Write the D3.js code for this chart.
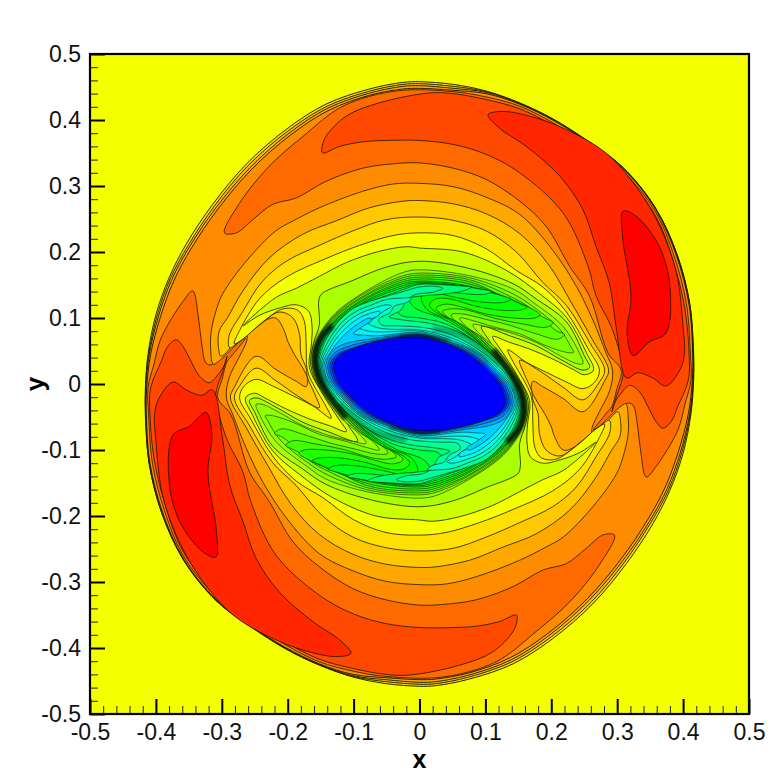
<!DOCTYPE html>
<html><head><meta charset="utf-8">
<script src="https://cdn.jsdelivr.net/npm/d3@7"></script>
<style>html,body{margin:0;padding:0;background:#fff}svg{display:block}</style></head>
<body><svg id="c" width="781" height="781"></svg>
<script>
// Contour coordinates in thousandths of an axis unit: x,y,x,y,...
// "half" contours run from a point round to its antipode; the field is point-symmetric about the origin.
const tickValues=[-0.5,-0.4,-0.3,-0.2,-0.1,0,0.1,0.2,0.3,0.4,0.5];
const tickLabels=["-0.5","-0.4","-0.3","-0.2","-0.1","0","0.1","0.2","0.3","0.4","0.5"];
const minorTicks=[];for(let i=-25;i<=25;i++){if(i%5)minorTicks.push(i/50);}

const edge0=[0,458,51,454,101,444,152,426,202,402,253,370,308,329,358,267,391,196,410,122,416,47,416,6,412,-45,400,-105,380,-161,354,-212,314,-272,263,-333,202,-386,142,-424,76,-447,25,-457];
const edge1=[0,455,51,451,101,443,152,425.5,202,401.5,253,369.5,308,328.5,358,266.5,391,195.5,410,121.5,415.5,47,415.5,6,411,-45,398,-104,378,-160,351,-210,311,-270,261,-330,200,-383,140,-421,75,-444,25,-454];
const edge2=[0,452,51,448,101,442,152,425,202,401,253,369,308,328,358,266,390.5,195,409.5,121,415,47,415,6,410,-45,396,-103,376,-158,349,-208,309,-267,258,-327,198,-380,139,-418,75,-441,25,-451];
const edge3=[0,448,51,445,101,440,152,424,202,400,253,368,308,327,358,265,390,194,409,120,414.5,47,414,6,408,-45,393,-102,373,-156,346,-206,306,-265,255,-325,196,-377,137,-415,74,-438,25,-447];

const crescentC=[-296,229,-273,274,-228,330,-177,375,-116,421,-35,444,51,443,101,435,152,421,202,396,253,364,308,323,358,261,387,192,405,122,411,47,412,6,403,-30,392,-70,359,-125,344,-141,336,-105,331,-65,324,-32,316,-29,304,-39,264,-70,283,-45,292,-34,299,-9,306,21,286,47,258,133,228,178,192,239,152,277,101,310,51,327,0,335,-35,334,-86,327,-142,307,-187,282,-223,272,-253,249,-278,229];
const crescentB=[-148,358,-142,375,-111,406,-61,426,15,441,51,440,101,431,152,417,202,392,253,359,308,318,358,255,385,186,402,118,409,47,408,6,392,-34,382,-57,369,-67,359,-57,349,-39,334,-12,319,-2,306,-14,296,-29,292,-42,300,-15,307,5,309,21,293,82,268,133,256,178,218,259,152,320,101,348,51,363,0,369,-51,369,-86,367,-121,360,-147,350];
const crescentA=[104,408,127,413,177,403,228,383,283,350,331,296,366,236,390,168,400,87,402,45,395,21,374,-3,354,9,331,17,314,9,299,82,288,153,268,208,248,264,213,315,162,360,121,388];
const lobeRed=[309,262,329,254,364,208,380,148,374,77,349,64,324,43,315,77,321,133,308,224];

const levelD=[0,304,51,299,101,283,152,257,202,203,238,148,263,97,283,47,293,21,289,-9,273,-42,262,-66,262,-76,283,-55,304,-35,313,-30,317,-56,316,-80,309,-110,299,-136,263,-186,218,-232,192,-247,152,-267,86,-292,40,-303];
const levelE=[0,278,51,273,101,258,152,228,195,182,230,124,263,66,287,21,281,5,248,-42,218,-22,187,-4,172,4,170,-9,177,-24,190,-45,200,-65,205,-80,218,-100,235,-96,253,-86,278,-65,301,-42,305,-55,304,-80,291,-101,268,-141,228,-191,177,-227,127,-247,76,-267,25,-277];
const levelF=[0,253,51,248,101,232,147,200,187,154,223,119,258,63,281,21,273,3,248,-24,218,-5,182,20,152,36,159,15,170,-10,172,-24,180,-45,182,-75,192,-100,213,-109,243,-89,273,-65,288,-55,289,-73,268,-110,238,-156,202,-186,152,-210,101,-232,51,-249];
const levelG=[0,229,51,225,101,205,147,172,187,147,223,109,256,53,273,21,266,3,248,-7,223,3,192,18,162,33,134,52,144,30,157,8,170,-20,172,-61,175,-96,185,-112,207,-114,238,-94,268,-68,281,-61,273,-81,243,-129,202,-162,142,-190,91,-210,40,-225];
const levelH=[0,206,66,200,132,172,182,137,223,101,253,48,264,21,250,14,235,21,202,38,167,53,137,63,111,72,124,51,147,15,167,-25,164,-61,163,-86,168,-110,187,-120,213,-115,243,-104,268,-88,218,-131,187,-145,152,-163,111,-184,61,-201,20,-208];
const levelI=[0,186,76,175,142,152,177,129,223,94,250,43,258,25,248,21,218,35,177,58,137,73,94,87,109,61,132,20,152,5,165,-28,161,-61,152,-90,153,-125,149,-136,101,-157,51,-177];
const levelJ=[0,173,76,164,142,144,172,124,218,87,243,46,248,31,238,31,213,43,177,63,137,78,101,87,81,90,91,76,114,56,139,25,156,-5,163,-30,158,-61,132,-103,81,-141,25,-169];
const levelK=[0,168,76,161,139,138,170,119,213,83,230,56,234,48,223,48,192,58,152,76,111,87,81,96,61,100,71,87,94,71,121,43,144,15,155,-5,162,-30,157,-61,132,-101,81,-139,25,-164];
const levelL=[0,165,76,158,137,133,167,116,207,81,220,75,210,68,177,76,137,89,96,99,66,106,48,105,58,92,83,78,114,51,139,20,154,-5,161,-30,156,-61,132,-99,81,-136,25,-161];
const levelM=[0,162,76,155,132,129,162,114,192,99,203,93,192,86,157,91,116,99,76,111,51,114,35,110,46,99,73,83,106,56,134,23,153,-5,160,-30,155,-61,132,-97,81,-134,25,-158];
const levelN=[0,159,71,153,127,133,170,114,183,105,175,100,142,100,101,106,66,116,40,121,25,115,35,105,66,89,99,61,129,26,152,-5,159,-30,153,-61,132,-94,81,-131,25,-155];
const levelO=[0,156,61,151,116,137,154,121,163,116,152,112,121,112,81,119,46,129,25,129,15,120,25,109,56,94,91,66,124,30,151,-5,158,-30,152,-61,132,-92,81,-129,25,-152];
const levelP=[0,154,56,150,106,139,134,131,139,129,129,124,96,124,56,131,20,138,3,133,5,122,15,110,48,96,86,68,119,33,150,-5,157,-30,151,-61,132,-90,81,-126,25,-149];
const levelQ=[0,152,51,150,91,144,110,140,99,136,66,137,30,142,-5,146,-15,134,-15,125,-5,114,35,99,81,71,114,36,149,-5,156,-30,149,-61,132,-88,81,-124,25,-146];
const levelR=[0,151,40,150,71,148,79,147,66,141,35,136,0,133,-25,128,-35,114,-28,104,0,100,40,91,86,63,119,30,148,-5,155,-30,147,-61,132,-85,81,-121,25,-143];
const levelS=[-153,30,-146,58,-133,82,-118,100,-100,115,-76,125,-50,133,-25,140,0,147,25,148,35,145,20,139,-5,136,-20,127,-28,112,-46,102,-25,97,15,92,56,80,96,56,127,25,148,-9];
const levelT=[-151,30,-143,56,-130,78,-115,96,-96,110,-72,120,-50,128,-28,130,-12,130,-18,124,-38,118,-45,108,-62,98,-58,90,-30,88,10,85,50,74,90,52,122,25,146,-9];
const levelU=[-149,30,-140,54,-127,75,-112,92,-92,106,-72,114,-50,120,-42,118,-55,110,-68,100,-80,94,-66,86,-45,83,0,82,48,70,88,50,120,22,144,-9];
const levelV=[-147,30,-137,52,-124,72,-108,88,-88,102,-72,108,-60,110,-62,104,-78,96,-92,86,-76,80,-55,79,0,80,46,67,88,48,118,20,142,-9];
const ring1=[-145,30,-134,50,-120,68,-106,82,-92,92,-76,100,-72,97,-88,86,-100,76,-85,74,-65,73,0,78,44,65,87,47,134,3,141,-9];
const ring2=[-142,30,-130,52,-110,62,-75,68,0,76,43,64,86,46,131,3,138,-9];
const ring3=[-139,30,-128,48,-105,58,-70,66,0,75,42,63,85,44,128,3,135,-9];
const ring4=[-136,30,-125,45,-100,55,-60,66,0,74,41,62,83,43,125,3,132,-9];
const ring5=[-133,30,-122,44,-95,56,-50,68,0,73,40,62,81,42,122,3,129,-9];
const core=[-130,30,-121,44,-91,57,-46,68,0,71,40,61,81,40,121,1,126,-9];
// Stretches of the ring where the contour lines pack into near-black bands.
const packedBand=[112,52,130,28,146,4,156,-22,158,-46,150,-70,132,-88];
const packedCoreEdge=[-30,72,0,73,46,66];
const packedTeal=[20,84,70,72,100,50,122,30];

const edgeColors=["#ffdc00","#ffc000","#ffa800","#ff8c00"];
const crescentColors=["#ff6a00","#ff4800","#ff2600","#ff0000"];
const levelColors=["#ffa800","#ffc800","#ffe000","#f4ff00","#ccff00","#aaff00","#90ff00","#78ff00","#5cff00","#40ff00","#20ff00","#00ff00","#00ff20","#00ff48","#00ff70","#00ff98","#00ffc0","#00ffe8","#00f0ff"];
const ringColors=["#00d0ff","#00a8ff","#0080ff","#0050ff","#0028ff","#0000ff"];

const x=d3.scaleLinear().domain([-0.5,0.5]).range([90,749]);
const y=d3.scaleLinear().domain([-0.5,0.5]).range([714,54]);
const svg=d3.select("#c");
const defs=svg.append("defs");
defs.append("filter").attr("id","soft").attr("x","-30%").attr("y","-30%").attr("width","160%").attr("height","160%")
  .append("feGaussianBlur").attr("stdDeviation",1.6);
const pairs=a=>{const o=[];for(let i=0;i<a.length;i+=2)o.push([a[i]/1000,a[i+1]/1000]);return o;};
const flip=p=>p.map(d=>[-d[0],-d[1]]);
const both=a=>{const p=pairs(a);return p.concat(flip(p));};
const line=d3.line().x(d=>x(d[0])).y(d=>y(d[1])).curve(d3.curveCatmullRomClosed.alpha(0.5));
const open=d3.line().x(d=>x(d[0])).y(d=>y(d[1])).curve(d3.curveCatmullRom.alpha(0.5));

svg.append("rect").attr("x",x(-0.5)).attr("y",y(0.5)).attr("width",x(0.5)-x(-0.5)).attr("height",y(-0.5)-y(0.5)).attr("fill","#f4ff00");
const layers=[];
[edge0,edge1,edge2,edge3].forEach((c,i)=>layers.push({p:both(c),f:edgeColors[i],w:1}));
[crescentC,crescentB,crescentA,lobeRed].forEach((c,i)=>{const p=pairs(c);layers.push({p:p,f:crescentColors[i],w:0.85});layers.push({p:flip(p),f:crescentColors[i],w:0.85});});
[levelD,levelE,levelF,levelG,levelH,levelI].forEach((c,i)=>layers.push({p:both(c),f:levelColors[i],w:0.85}));
[levelJ,levelK,levelL,levelM,levelN,levelO,levelP,levelQ,levelR,levelS,levelT,levelU,levelV].forEach((c,i)=>layers.push({p:both(c),f:levelColors[i+6],w:0.65}));
[ring1,ring2,ring3,ring4,ring5,core].forEach((c,i)=>layers.push({p:both(c),f:ringColors[i],w:0.6}));
svg.append("g").selectAll("path").data(layers).join("path")
  .attr("d",d=>line(d.p)).attr("fill",d=>d.f).attr("stroke","#141400").attr("stroke-width",d=>d.w).attr("stroke-opacity",0.9).attr("stroke-linejoin","round");

const bands=[{p:pairs(packedBand),w:6,o:0.85},{p:pairs(packedCoreEdge),w:2,o:0.8},{p:pairs(packedTeal),w:6,o:0.3}];
const bandAll=bands.flatMap(b=>[b,{p:flip(b.p),w:b.w,o:b.o}]);
svg.append("g").attr("filter","url(#soft)").selectAll("path").data(bandAll).join("path")
  .attr("d",d=>open(d.p)).attr("fill","none").attr("stroke","#001008").attr("stroke-width",d=>d.w).attr("stroke-opacity",d=>d.o).attr("stroke-linecap","butt");

const fontF="'Liberation Sans',Arial,sans-serif";
const fmt=v=>tickLabels[tickValues.indexOf(v)];
const gx=svg.append("g").attr("transform",`translate(0,${y(-0.5)})`);
const gy=svg.append("g").attr("transform",`translate(${x(-0.5)},0)`);
gx.call(d3.axisBottom(x).tickValues(minorTicks).tickSize(-8).tickFormat("")).call(g=>g.selectAll("line").attr("stroke","#222").attr("stroke-width",1)).select(".domain").remove();
gy.call(d3.axisLeft(y).tickValues(minorTicks).tickSize(-8).tickFormat("")).call(g=>g.selectAll("line").attr("stroke","#222").attr("stroke-width",1)).select(".domain").remove();
const gx2=svg.append("g").attr("transform",`translate(0,${y(-0.5)})`);
const gy2=svg.append("g").attr("transform",`translate(${x(-0.5)},0)`);
gx2.call(d3.axisBottom(x).tickValues(tickValues).tickSize(-15).tickFormat(fmt));
gy2.call(d3.axisLeft(y).tickValues(tickValues).tickSize(-15).tickPadding(9).tickFormat(fmt));
[gx2,gy2].forEach(g=>{g.select(".domain").remove();g.selectAll("line").attr("stroke","#000").attr("stroke-width",2);
  g.selectAll("text").attr("font-family",fontF).attr("font-size",23).attr("fill","#111");});
gx2.selectAll("text").attr("y",5).attr("dy","0.9em");
svg.append("rect").attr("x",x(-0.5)).attr("y",y(0.5)).attr("width",x(0.5)-x(-0.5)).attr("height",y(-0.5)-y(0.5)).attr("fill","none").attr("stroke","#000").attr("stroke-width",2.2);
svg.append("text").attr("x",x(0)).attr("y",768).attr("text-anchor","middle").attr("font-family",fontF).attr("font-weight","bold").attr("font-size",25).text("x");
svg.append("text").attr("transform",`translate(44,${y(0)}) rotate(-90)`).attr("text-anchor","middle").attr("font-family",fontF).attr("font-weight","bold").attr("font-size",26).text("y");
</script></body></html>
